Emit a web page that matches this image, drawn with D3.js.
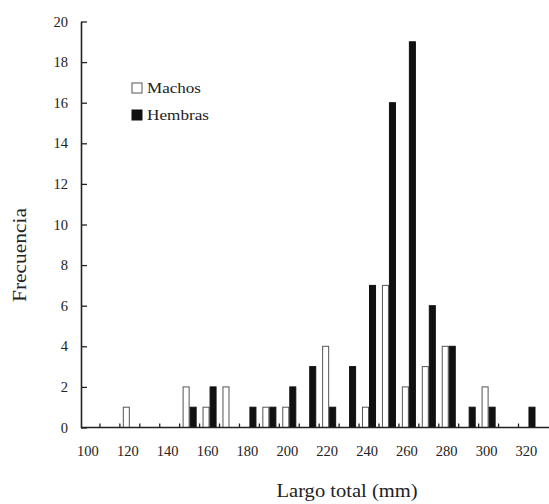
<!DOCTYPE html>
<html>
<head>
<meta charset="utf-8">
<script src="https://cdnjs.cloudflare.com/ajax/libs/d3/7.8.5/d3.min.js"></script>
<style>
  body { margin: 0; background: #fff; }
  svg text { font-family: "Liberation Serif", "Times New Roman", serif; fill: #222; }
</style>
</head>
<body>
<div id="chart"></div>
<script>
// length classes (mm) and counts per sex
var categories = [100, 110, 120, 130, 140, 150, 160, 170, 180, 190, 200, 210,
                  220, 230, 240, 250, 260, 270, 280, 290, 300, 310, 320];
var machos  = [0, 0, 1, 0, 0, 2, 1, 2, 0, 1, 1, 0, 4, 0, 1, 7, 2, 3, 4, 0, 2, 0, 0];
var hembras = [0, 0, 0, 0, 0, 1, 2, 0, 1, 1, 2, 3, 1, 3, 7, 16, 19, 6, 4, 1, 1, 0, 1];
var xLabels = [100, 120, 140, 160, 180, 200, 220, 240, 260, 280, 300, 320];
var yTicks = [0, 2, 4, 6, 8, 10, 12, 14, 16, 18, 20];
var seriesNames = ["Machos", "Hembras"];

var svgWidth = 549, svgHeight = 504;
var margin = { top: 21.5, right: 0, bottom: 76.5, left: 81 };

var svg = d3.select("#chart").append("svg")
  .attr("width", svgWidth)
  .attr("height", svgHeight);

var data = categories.map(function (c, i) {
  return { cat: c, Machos: machos[i], Hembras: hembras[i] };
});

// category band scale, extra space left at the right end
var x = d3.scaleBand()
  .domain(categories)
  .range([margin.left - 1, svgWidth])
  .paddingInner(0)
  .paddingOuter(0.265)
  .align(0);

var xSub = d3.scaleBand()
  .domain(seriesNames)
  .range([0, x.bandwidth()])
  .paddingInner(0)
  .paddingOuter(0.42);

var y = d3.scaleLinear()
  .domain([0, 20])
  .range([svgHeight - margin.bottom, margin.top]);

var y0 = y(0);

// bars
var groups = svg.append("g").selectAll("g")
  .data(data)
  .enter()
  .append("g")
  .attr("transform", d => `translate(${x(d.cat)},0)`);

groups.selectAll("rect")
  .data(d => seriesNames.map(k => ({ key: k, value: d[k] })))
  .enter()
  .append("rect")
  .filter(d => d.value > 0)
  .attr("x", d => xSub(d.key) + 0.5)
  .attr("y", d => y(d.value))
  .attr("width", xSub.bandwidth() - 1)
  .attr("height", d => y0 - y(d.value))
  .attr("fill", d => d.key === "Machos" ? "#fff" : "#111")
  .attr("stroke", d => d.key === "Machos" ? "#555" : "#111")
  .attr("stroke-width", 1);

// x axis: labels only, tick marks at class boundaries drawn below
var xAxis = d3.axisBottom(x)
  .tickValues(xLabels)
  .tickSizeInner(0)
  .tickSizeOuter(0)
  .tickPadding(18);

var xAxisG = svg.append("g")
  .attr("transform", `translate(0, ${y0})`)
  .call(xAxis);
xAxisG.select(".domain").remove();
xAxisG.selectAll("text").style("font-size", "14.5px").attr("dx", "-2");

var bounds = categories.map(c => x(c)).slice(1);
svg.append("g").selectAll("line")
  .data(bounds)
  .enter()
  .append("line")
  .attr("x1", d => d).attr("x2", d => d)
  .attr("y1", y0).attr("y2", y0 - 4)
  .attr("stroke", "#222")
  .attr("stroke-width", 1.3);

svg.append("line")
  .attr("x1", margin.left).attr("x2", svgWidth)
  .attr("y1", y0).attr("y2", y0)
  .attr("stroke", "#222")
  .attr("stroke-width", 1.6);

// y axis with inward ticks
var yAxis = d3.axisLeft(y)
  .tickValues(yTicks)
  .tickSizeInner(-6)
  .tickSizeOuter(0)
  .tickPadding(13);

var yAxisG = svg.append("g")
  .attr("transform", `translate(${margin.left}, 0)`)
  .call(yAxis);
yAxisG.select(".domain").attr("stroke", "#222").attr("stroke-width", 1.6);
yAxisG.selectAll(".tick line").attr("stroke", "#222").attr("stroke-width", 1.3);
yAxisG.selectAll("text").style("font-size", "14.5px");

// axis titles
svg.append("text")
  .attr("x", 347)
  .attr("y", 497)
  .attr("text-anchor", "middle")
  .attr("textLength", 141)
  .attr("lengthAdjust", "spacingAndGlyphs")
  .style("font-size", "18px")
  .text("Largo total (mm)");

svg.append("text")
  .attr("transform", "rotate(-90)")
  .attr("x", -255)
  .attr("y", 26)
  .attr("text-anchor", "middle")
  .attr("textLength", 94)
  .attr("lengthAdjust", "spacingAndGlyphs")
  .style("font-size", "18px")
  .text("Frecuencia");

// legend
var legend = svg.append("g");
var legendRows = legend.selectAll("g")
  .data(seriesNames)
  .enter()
  .append("g")
  .attr("transform", (d, i) => `translate(132, ${88 + i * 27})`);

legendRows.append("rect")
  .attr("x", 0).attr("y", -5)
  .attr("width", 10).attr("height", 10)
  .attr("fill", d => d === "Machos" ? "#fff" : "#111")
  .attr("stroke", d => d === "Machos" ? "#555" : "#111");

legendRows.append("text")
  .attr("x", 15)
  .attr("y", 5)
  .attr("textLength", d => d === "Machos" ? 54 : 62)
  .attr("lengthAdjust", "spacingAndGlyphs")
  .style("font-size", "14px")
  .text(d => d);
</script>
</body>
</html>
